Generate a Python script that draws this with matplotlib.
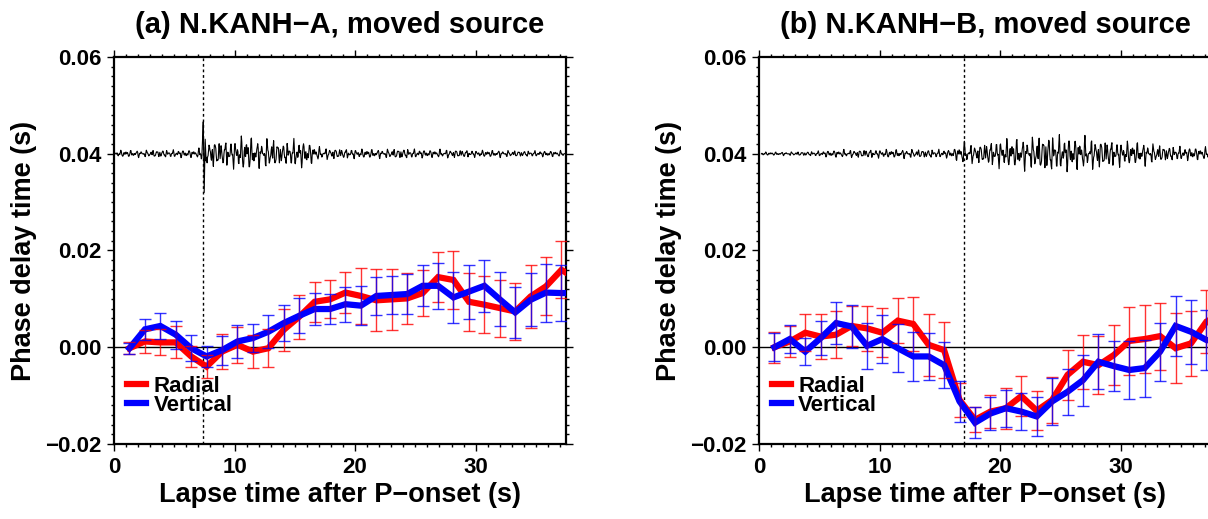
import numpy as np
import matplotlib
matplotlib.use("Agg")
from matplotlib import pyplot as plt
from matplotlib.ticker import MultipleLocator, FuncFormatter

plt.rcParams['font.family'] = ['Liberation Sans', 'DejaVu Sans']
plt.rcParams['font.weight'] = 'bold'
plt.rcParams['axes.labelweight'] = 'bold'
plt.rcParams['axes.titleweight'] = 'bold'

# Zeitfenster (Mitte), 1.28 s Schritt
t_win = 1.28 * np.arange(1, 31)

# (a) N.KANH-A
rad_a = [-0.0002, 0.0012, 0.0010, 0.0010, -0.0019, -0.0040, -0.0009, 0.0005, -0.0009, -0.0002,
         0.0036, 0.0063, 0.0094, 0.0099, 0.0113, 0.0106, 0.0097, 0.0099, 0.0101, 0.0112,
         0.0145, 0.0139, 0.0094, 0.0088, 0.0081, 0.0074, 0.0105, 0.0126, 0.0160, 0.0140]
rad_a_err = [0.0012, 0.0024, 0.0027, 0.0033, 0.0022, 0.0024, 0.0036, 0.0037, 0.0034, 0.0039,
             0.0044, 0.0045, 0.0041, 0.0039, 0.0042, 0.0057, 0.0064, 0.0063, 0.0053, 0.0047,
             0.0052, 0.0060, 0.0060, 0.0059, 0.0059, 0.0059, 0.0066, 0.0060, 0.0059, 0.0060]
ver_a = [-0.0002, 0.0037, 0.0044, 0.0026, -0.0002, -0.0019, -0.0006, 0.0012, 0.0019, 0.0032,
         0.0050, 0.0065, 0.0079, 0.0079, 0.0089, 0.0086, 0.0106, 0.0108, 0.0110, 0.0127,
         0.0127, 0.0103, 0.0115, 0.0127, 0.0099, 0.0072, 0.0098, 0.0113, 0.0112, 0.0112]
ver_a_err = [0.0011, 0.0022, 0.0026, 0.0029, 0.0027, 0.0021, 0.0030, 0.0034, 0.0029, 0.0034,
             0.0037, 0.0036, 0.0033, 0.0031, 0.0036, 0.0040, 0.0039, 0.0040, 0.0041, 0.0042,
             0.0047, 0.0053, 0.0056, 0.0054, 0.0056, 0.0053, 0.0055, 0.0060, 0.0058, 0.0058]

# (b) N.KANH-B
rad_b = [0.0000, 0.0012, 0.0030, 0.0022, 0.0026, 0.0044, 0.0039, 0.0030, 0.0055, 0.0048,
         0.0005, -0.0006, -0.0109, -0.0150, -0.0133, -0.0126, -0.0101, -0.0131, -0.0109, -0.0057,
         -0.0030, -0.0037, -0.0016, 0.0013, 0.0017, 0.0023, -0.0002, 0.0008, 0.0053, 0.0070]
rad_b_err = [0.0032, 0.0032, 0.0038, 0.0046, 0.0048, 0.0041, 0.0047, 0.0051, 0.0047, 0.0056,
             0.0064, 0.0058, 0.0036, 0.0026, 0.0034, 0.0042, 0.0041, 0.0041, 0.0048, 0.0052,
             0.0056, 0.0060, 0.0061, 0.0070, 0.0070, 0.0069, 0.0072, 0.0067, 0.0065, 0.0065]
ver_b = [0.0000, 0.0017, -0.0009, 0.0019, 0.0050, 0.0043, 0.0003, 0.0017, -0.0002, -0.0019,
         -0.0019, -0.0037, -0.0112, -0.0156, -0.0137, -0.0126, -0.0133, -0.0143, -0.0112, -0.0092,
         -0.0068, -0.0030, -0.0039, -0.0047, -0.0043, -0.0009, 0.0044, 0.0032, 0.0015, 0.0010]
ver_b_err = [0.0029, 0.0029, 0.0028, 0.0036, 0.0043, 0.0044, 0.0047, 0.0049, 0.0050, 0.0050,
             0.0049, 0.0048, 0.0042, 0.0032, 0.0034, 0.0038, 0.0039, 0.0041, 0.0049, 0.0048,
             0.0053, 0.0057, 0.0052, 0.0059, 0.0059, 0.0060, 0.0062, 0.0066, 0.0063, 0.0063]

# P-Einsatz (gestrichelte Linie)
onset = [7.4, 17.0]

# Seismogramm: Einhüllende, Basislinie bei 0.04
env_t = [0, 2, 4, 6, 7.0, 7.4, 8, 9, 10, 11, 12, 13, 14, 15, 16, 17, 18, 20, 22, 24, 26, 28, 30, 32, 34, 36, 38]
env_a = [0.0008, 0.0008, 0.0009, 0.0009, 0.0010, 0.0030, 0.0035, 0.0030, 0.0035, 0.0045, 0.0030, 0.0038,
         0.0025, 0.0035, 0.0030, 0.0015, 0.0013, 0.0011, 0.0010, 0.0012, 0.0009, 0.0010, 0.0008, 0.0008,
         0.0007, 0.0007, 0.0007]
env_b = [0.0004, 0.0004, 0.0005, 0.0008, 0.0009, 0.0009, 0.0009, 0.0010, 0.0010, 0.0010, 0.0010, 0.0010,
         0.0010, 0.0010, 0.0010, 0.0026, 0.0022, 0.0034, 0.0036, 0.0045, 0.0040, 0.0036, 0.0030, 0.0026,
         0.0018, 0.0015, 0.0014]
spike_t = [7.30, 7.40, 7.48, 7.56, 7.64, 7.72]
spike_a = [0.0, 0.0066, -0.0080, 0.0030, -0.0015, 0.0]
trace_start = [0.1, 0.2]

ts = np.arange(0, 38.5, 0.04)
carrier = (np.sin(2 * np.pi * 2.3 * ts) + 0.8 * np.sin(2 * np.pi * 3.7 * ts + 1.1)
           + 0.6 * np.sin(2 * np.pi * 5.3 * ts + 0.4) + 0.5 * np.sin(2 * np.pi * 7.1 * ts + 2.0))
carrier = carrier / np.abs(carrier).max()

panels = [
    dict(title="(a) N.KANH\u2212A, moved source", rad=rad_a, rerr=rad_a_err, ver=ver_a, verr=ver_a_err,
         env=env_a, pos=[0.0944, 0.1445, 0.3742, 0.7457]),
    dict(title="(b) N.KANH\u2212B, moved source", rad=rad_b, rerr=rad_b_err, ver=ver_b, verr=ver_b_err,
         env=env_b, pos=[0.6283, 0.1445, 0.3742, 0.7457]),
]

minus_fmt = FuncFormatter(lambda v, pos: ("%.2f" % v).replace("-", "\u2212"))

fig = plt.figure(figsize=(12.08, 5.19), dpi=100)

for i, p in enumerate(panels):
    ax = fig.add_axes(p["pos"])

    # Wellenform
    trace = 0.04 + np.interp(ts, env_t, p["env"]) * carrier
    if i == 0:
        sp = np.interp(ts, spike_t, spike_a)
        m = (ts > spike_t[0]) & (ts < spike_t[-1])
        trace[m] = 0.04 + sp[m]
    keep = ts >= trace_start[i]
    ax.plot(ts[keep], trace[keep], color="black", lw=0.8, zorder=3)

    ax.axhline(0, color="black", lw=1.0, zorder=1)
    ax.axvline(onset[i], color="black", lw=1.0, ls=(0, (2, 2)), zorder=1)

    ax.plot(t_win, p["rad"], color="#ff0000", lw=4.5, solid_joinstyle="miter", zorder=4, label="Radial")
    ax.plot(t_win, p["ver"], color="#0000ff", lw=4.5, solid_joinstyle="miter", zorder=5, label="Vertical")
    ax.errorbar(t_win, p["rad"], yerr=p["rerr"], fmt="none", ecolor="#ff0000", elinewidth=1.0,
                capsize=4, capthick=1.0, alpha=0.8, zorder=6)
    ax.errorbar(t_win, p["ver"], yerr=p["verr"], fmt="none", ecolor="#0000ff", elinewidth=1.0,
                capsize=4, capthick=1.0, alpha=0.8, zorder=6)

    ax.set_xlim(0, 37.5)
    ax.set_ylim(-0.02, 0.06)
    ax.xaxis.set_major_locator(MultipleLocator(10))
    ax.xaxis.set_minor_locator(MultipleLocator(1))
    ax.yaxis.set_major_locator(MultipleLocator(0.02))
    ax.yaxis.set_minor_locator(MultipleLocator(0.002))
    ax.yaxis.set_major_formatter(minus_fmt)
    ax.tick_params(which="both", direction="out", top=True, right=True, width=1.0)
    ax.tick_params(which="major", length=5, labelsize=16)
    ax.tick_params(axis="x", which="major", pad=4)
    ax.tick_params(axis="y", which="major", pad=4)
    ax.tick_params(which="minor", length=2.5)
    for s in ax.spines.values():
        s.set_linewidth(1.6)

    ax.set_title(p["title"], fontsize=21, pad=17)
    ax.set_xlabel("Lapse time after P\u2212onset (s)", fontsize=19.5, labelpad=3)
    ax.set_ylabel("Phase delay time (s)", fontsize=19.5)
    ax.yaxis.set_label_coords(-0.17, 0.5)

    ax.legend(loc="upper left", bbox_to_anchor=(0.028, 0.175), frameon=False, fontsize=16,
              handlelength=0.85, handletextpad=0.35, labelspacing=-0.1, borderpad=0,
              borderaxespad=0)

fig.savefig("out.png", dpi=100)
